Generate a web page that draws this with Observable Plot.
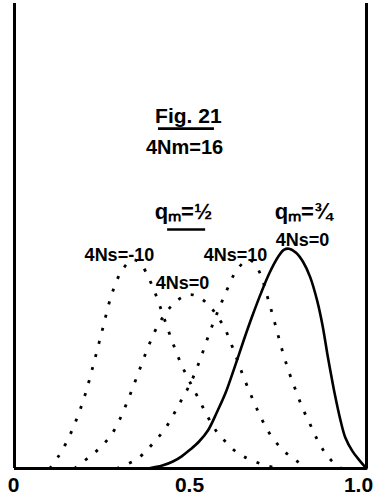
<!DOCTYPE html>
<html>
<head>
<meta charset="utf-8">
<script src="https://cdn.jsdelivr.net/npm/d3@7"></script>
<script src="https://cdn.jsdelivr.net/npm/@observablehq/plot@0.6"></script>
<style>
  html, body { margin: 0; padding: 0; background: #fff; }
</style>
</head>
<body>
<div id="chart"></div>
<script>
// Gene frequency q (x) and relative frequency density (y)
// q_m = 1/2, 4Ns = -10
const qNeg10 = [0.10,0.125,0.15,0.175,0.2,0.225,0.25,0.275,0.3,0.325,0.34,0.36,0.38,0.4,0.425,0.45,0.475,0.5,0.525,0.55,0.575,0.6,0.625,0.65,0.7,0.75];
const yNeg10 = [0,0.21,0.48,0.83,1.26,1.81,2.40,2.98,3.36,3.56,3.60,3.52,3.30,3.02,2.59,2.16,1.78,1.47,1.18,0.88,0.63,0.46,0.31,0.21,0.08,0];
// q_m = 1/2, 4Ns = 0
const qZero = [0.17,0.2,0.225,0.25,0.275,0.3,0.325,0.35,0.375,0.4,0.425,0.45,0.475,0.5,0.525,0.55,0.575,0.6,0.625,0.65,0.675,0.7,0.725,0.75,0.775,0.8,0.83];
const yZero = [0,0.14,0.26,0.40,0.58,0.86,1.22,1.62,2.02,2.38,2.64,2.83,2.95,3.00,2.95,2.83,2.64,2.38,2.00,1.59,1.22,0.88,0.60,0.40,0.25,0.14,0];
// q_m = 1/2, 4Ns = 10
const qPos10 = [0.29,0.325,0.35,0.375,0.4,0.425,0.45,0.475,0.5,0.525,0.55,0.575,0.6,0.625,0.65,0.665,0.68,0.7,0.72,0.74,0.76,0.78,0.8,0.82,0.84,0.86,0.88,0.9,0.92,0.93];
const yPos10 = [0,0.09,0.17,0.31,0.48,0.66,0.91,1.19,1.47,1.84,2.27,2.67,3.03,3.36,3.55,3.60,3.55,3.33,2.93,2.50,2.05,1.66,1.33,1.02,0.76,0.50,0.29,0.14,0.03,0];
// q_m = 3/4, 4Ns = 0 (solid)
const qM34 = [0.38,0.42,0.45,0.475,0.5,0.525,0.55,0.575,0.6,0.625,0.65,0.675,0.7,0.725,0.75,0.765,0.78,0.8,0.82,0.84,0.86,0.875,0.89,0.9,0.91,0.925,0.94,0.96,0.98,1.0];
const yM34 = [0,0.05,0.12,0.21,0.33,0.47,0.66,0.97,1.31,1.74,2.19,2.62,3.02,3.38,3.66,3.77,3.79,3.72,3.56,3.30,2.89,2.47,1.93,1.60,1.28,0.86,0.53,0.30,0.14,0];

// Axis tick values and labels
const tickValues = [0, 0.5, 1];
const tickLabels = ["0", "0.5", "1.0"];

// Annotation texts, anchored in data units (q, density)
const labelText = ["Fig. 21", "4Nm=16", "qₘ=½", "qₘ=¾", "4Ns=0", "4Ns=-10", "4Ns=10", "4Ns=0"];
const labelQ    = [0.494, 0.483, 0.48, 0.821, 0.818, 0.298, 0.628, 0.477];
const labelY    = [5.95, 5.43, 4.31, 4.31, 3.84, 3.57, 3.57, 3.10];
const labelSize = [21, 20, 22, 22, 18, 18, 18, 18];

// Underlines below "Fig. 21" and "qm = 1/2"
const ulQ1 = [0.409, 0.435];
const ulQ2 = [0.568, 0.543];
const ulY  = [5.86, 4.12];

const yMax = 8.07;

const toRows = (qs, ys) => qs.map((q, i) => ({q, y: ys[i]}));
const dotted = [toRows(qNeg10, yNeg10), toRows(qZero, yZero), toRows(qPos10, yPos10)];
const solid = toRows(qM34, yM34);
const labels = labelText.map((t, i) => ({t, q: labelQ[i], y: labelY[i], s: labelSize[i]}));
const underlines = ulQ1.map((q1, i) => ({q1, q2: ulQ2[i], y: ulY[i]}));
const fmt = d => tickLabels[tickValues.indexOf(d)];
const axisOpts = {tickFormat: fmt, tickSize: 0, tickPadding: 9, fontSize: 21, fontWeight: "bold", label: null};

const chart = Plot.plot({
  width: 378,
  height: 500,
  marginLeft: 14,
  marginRight: 12,
  marginTop: 0,
  marginBottom: 32,
  style: {fontFamily: "'Liberation Sans', Arial, sans-serif", background: "#fff", color: "#000"},
  x: {domain: [0, 1]},
  y: {domain: [0, yMax], axis: null},
  marks: [
    ...dotted.map(rows => Plot.line(rows, {
      x: "q", y: "y", curve: "catmull-rom",
      stroke: "#000", strokeWidth: 2.8, strokeDasharray: "3,10.5", strokeLinecap: "butt"
    })),
    Plot.line(solid, {x: "q", y: "y", curve: "catmull-rom", stroke: "#000", strokeWidth: 2.6}),
    Plot.ruleX([0, 1], {y1: 0, y2: 8.02, stroke: "#000", strokeWidth: 3}),
    Plot.ruleY([0], {x1: 0, x2: 1, stroke: "#000", strokeWidth: 3}),
    Plot.axisX(tickValues.slice(0, 2), {...axisOpts, dx: -1}),
    Plot.axisX(tickValues.slice(2), {...axisOpts, dx: -8}),
    Plot.text(labels, {
      x: "q", y: "y", text: "t", fontSize: "s", fontWeight: "bold",
      textAnchor: "middle", lineAnchor: "bottom", fill: "#000"
    }),
    Plot.ruleY(underlines, {x1: "q1", x2: "q2", y: "y", stroke: "#000", strokeWidth: 2.6})
  ]
});
document.getElementById("chart").appendChild(chart);
</script>
</body>
</html>
